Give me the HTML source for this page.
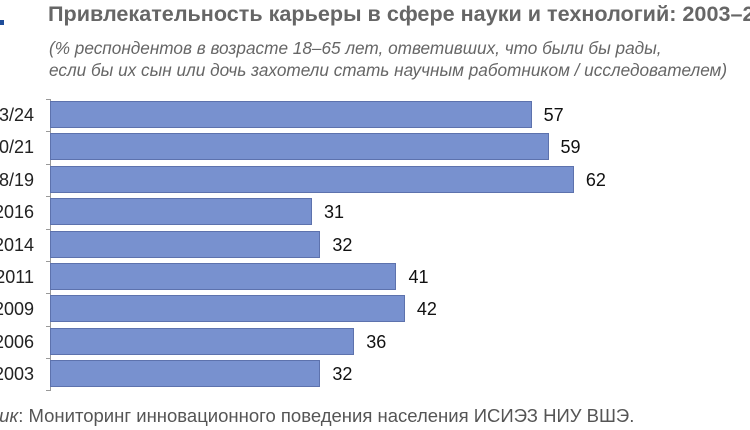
<!DOCTYPE html>
<html><head><meta charset="utf-8"><style>
body{margin:0;width:750px;height:430px;background:#fff;overflow:hidden;font-family:"Liberation Sans",Arial,sans-serif;position:relative}
.t{position:absolute;white-space:nowrap}
.bar{position:absolute;left:50px;height:27px;background:#7891cf;border:1px solid #5d72ad;box-sizing:border-box}
.v{position:absolute;font-size:18px;color:#111;line-height:20px}
.y{position:absolute;right:716px;font-size:18px;color:#222;line-height:20px;text-align:right}
.tk{position:absolute;left:46px;width:4px;height:1px;background:#999}
</style></head><body>
<div style="position:absolute;left:0;top:20px;width:4px;height:5px;background:#1f4e9a"></div>
<div class="t" style="left:48px;top:1px;font-size:21.6px;font-weight:bold;color:#666">Привлекательность карьеры в сфере науки и технологий: 2003–2024</div>
<div class="t" style="left:49px;top:37px;font-size:17.2px;font-style:italic;color:#666;line-height:22px">(% респондентов в возрасте 18–65 лет, ответивших, что были бы рады,<br>если бы их сын или дочь захотели стать научным работником / исследователем)</div>
<div style="position:absolute;left:50px;top:99px;width:1px;height:292px;background:#999"></div>
<div id="c"></div>
<div class="t" style="left:-11px;top:405px;font-size:18.5px;color:#555"><i>ник</i>: Мониторинг инновационного поведения населения ИСИЭЗ НИУ ВШЭ.</div>
<script>
var d=[["2023/24",57],["2020/21",59],["2018/19",62],["2016",31],["2014",32],["2011",41],["2009",42],["2006",36],["2003",32]];
var h="";
for(var i=0;i<d.length;i++){var y=101+i*32.4,w=d[i][1]*8.45;
h+='<div class="bar" style="top:'+y+'px;width:'+w+'px"></div>';
h+='<div class="v" style="left:'+(50+w+12)+'px;top:'+(y+4)+'px">'+d[i][1]+'</div>';
h+='<div class="y" style="top:'+(y+4)+'px">'+d[i][0]+'</div>';
h+='<div class="tk" style="top:'+(y-2)+'px"></div>';}
h+='<div class="tk" style="top:390px"></div>';
document.getElementById("c").innerHTML=h;
</script>
</body></html>
